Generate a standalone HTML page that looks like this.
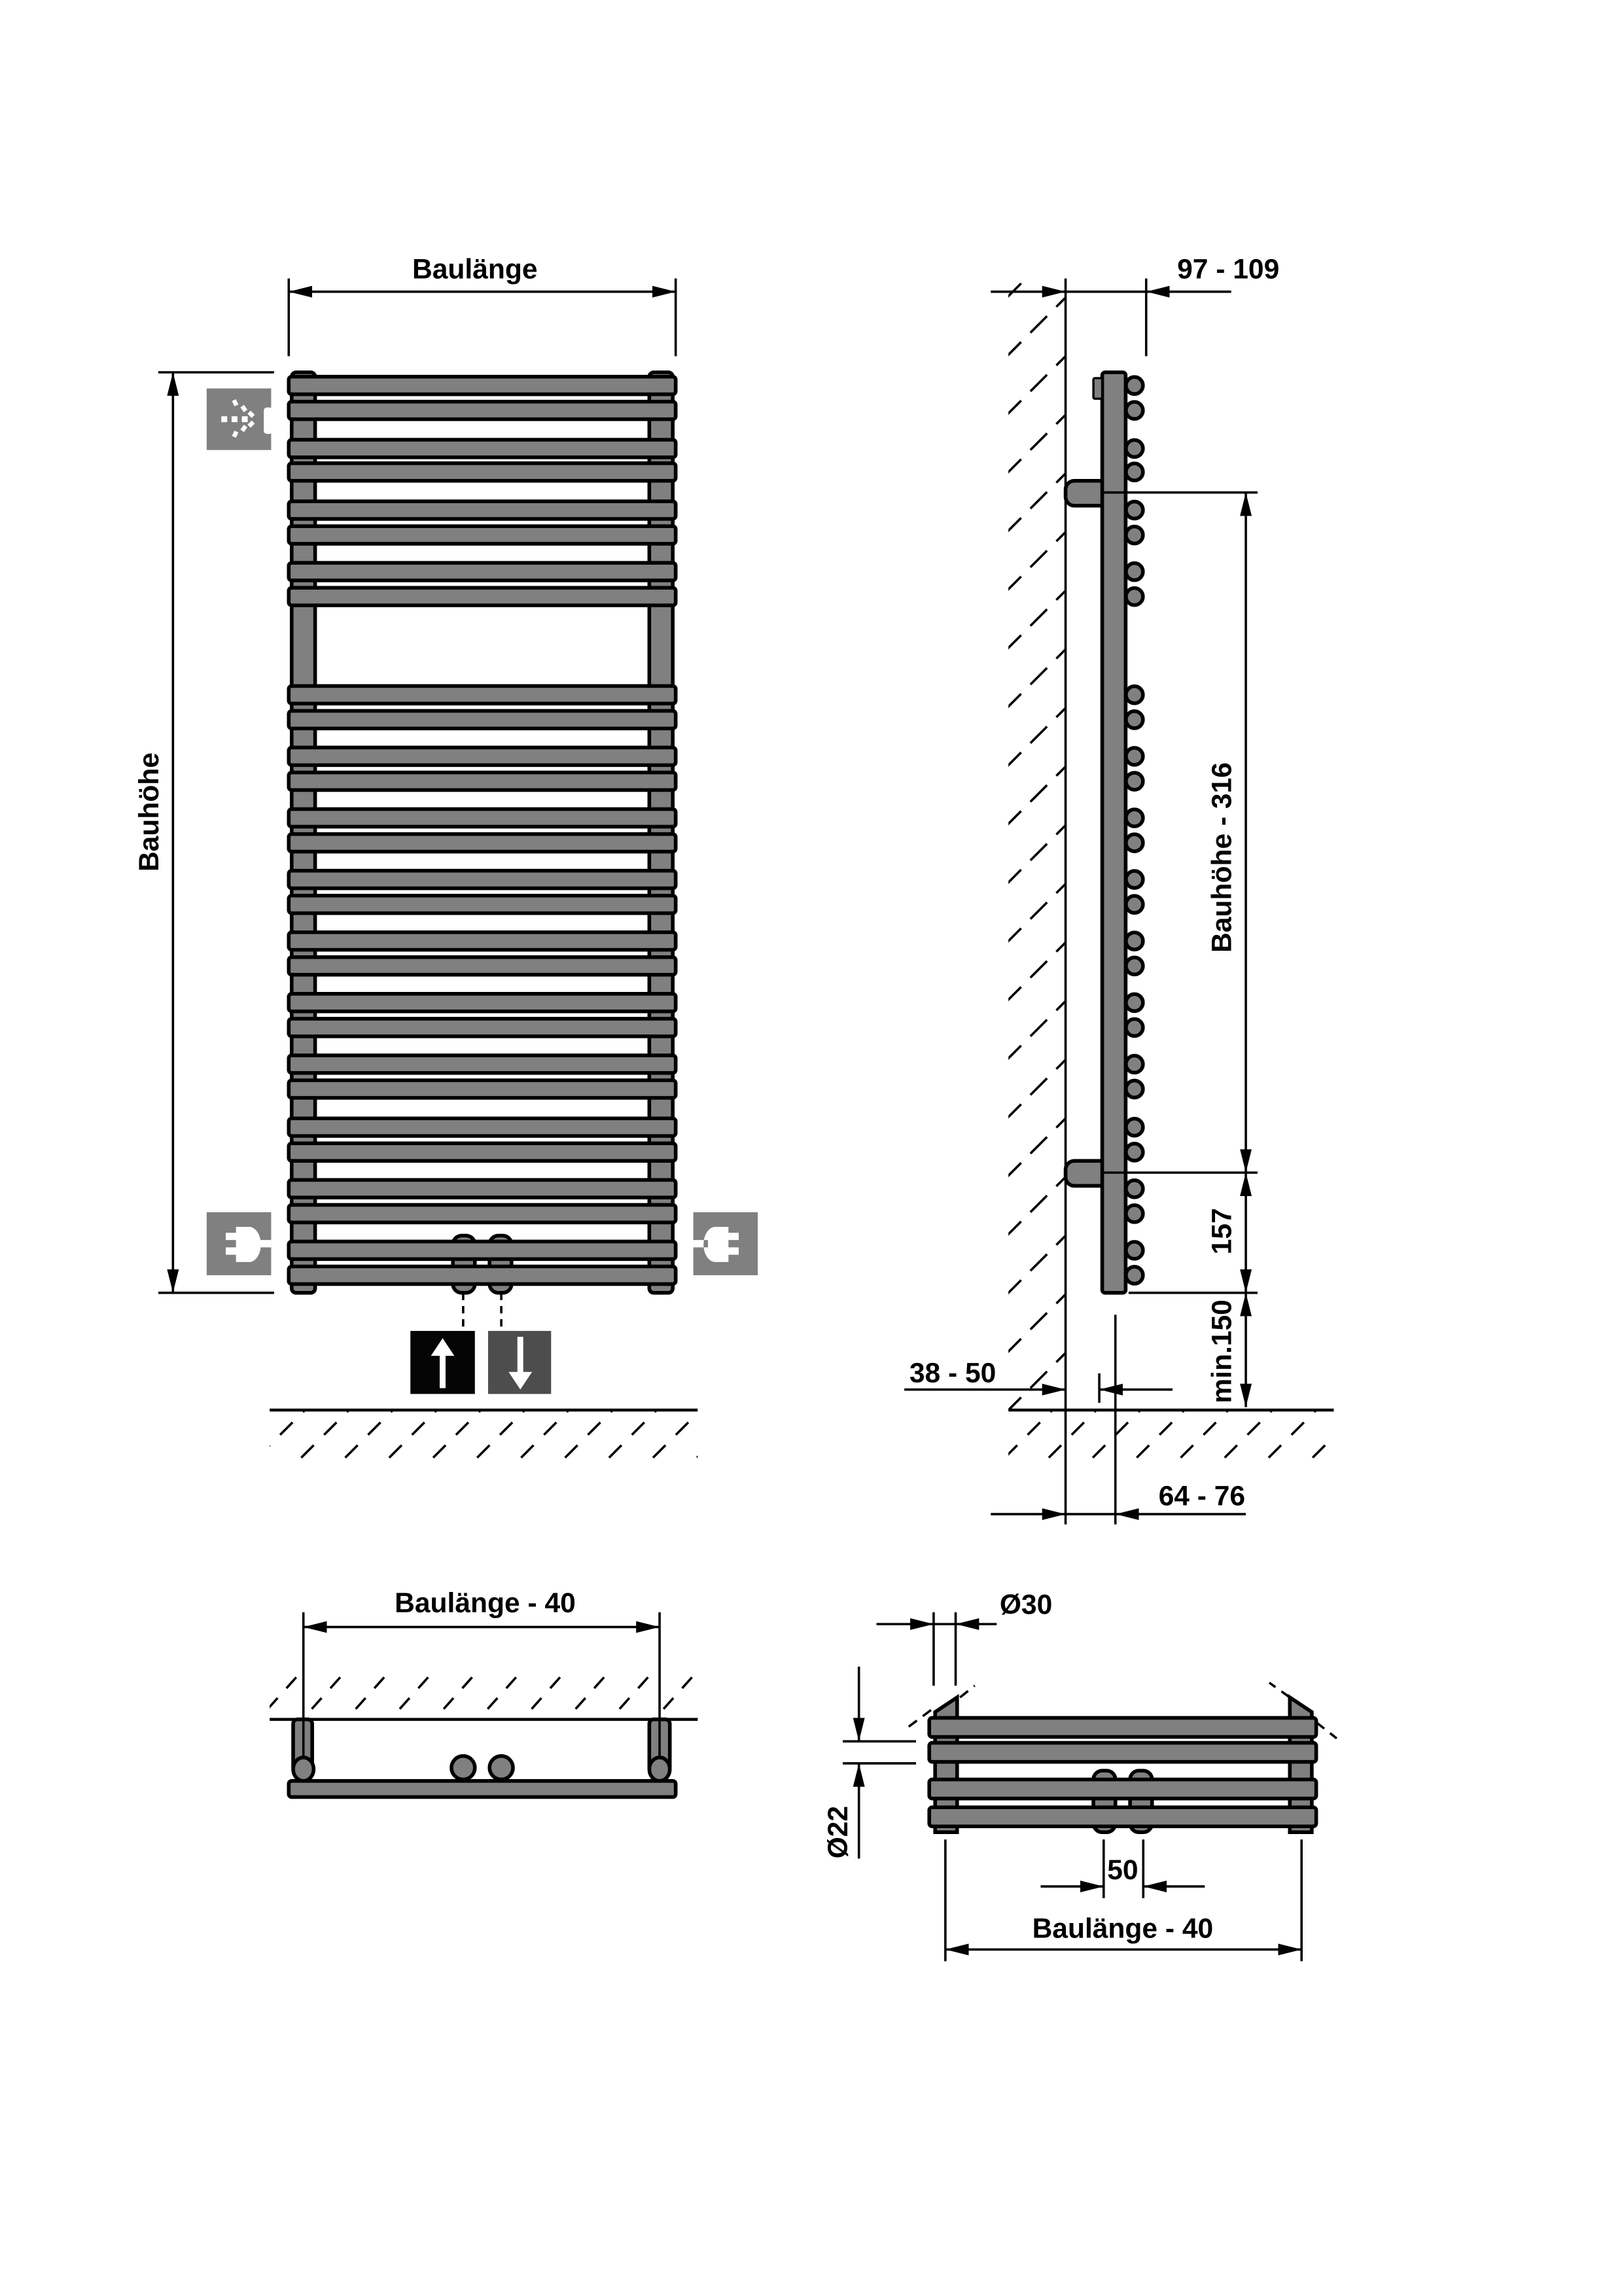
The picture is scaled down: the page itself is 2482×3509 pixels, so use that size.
<!DOCTYPE html>
<html><head><meta charset="utf-8"><style>
html,body{margin:0;padding:0;background:#fff}
svg{display:block}
text{font-family:"Liberation Sans Narrow","Liberation Sans",sans-serif;font-weight:bold;font-size:19px;fill:#000}
</style></head><body>
<svg width="2482" height="3509" viewBox="0 0 1108 1566.4" preserveAspectRatio="none" xmlns="http://www.w3.org/2000/svg">
<defs>
<marker id="a" viewBox="0 0 16 8" refX="16" refY="4" markerWidth="16" markerHeight="8" markerUnits="userSpaceOnUse" orient="auto-start-reverse"><path d="M0,0L16,4L0,8z" fill="#000"/></marker>
<clipPath id="cw"><rect x="688" y="190" width="39" height="772"/></clipPath>
<clipPath id="cf1"><rect x="184" y="962" width="292" height="38"/></clipPath>
<clipPath id="cf2"><rect x="688" y="962" width="222" height="38"/></clipPath>
<clipPath id="cb"><rect x="184" y="1140" width="292" height="33"/></clipPath>
</defs>
<g stroke="#000" stroke-width="1.6" fill="none">
<g clip-path="url(#cw)" stroke-dasharray="16 9">
<path d="M650,240L730,160M650,280L730,200M650,320L730,240M650,360L730,280M650,400L730,320M650,440L730,360M650,480L730,400M650,520L730,440M650,560L730,480M650,600L730,520M650,640L730,560M650,680L730,600M650,720L730,640M650,760L730,680M650,800L730,720M650,840L730,760M650,880L730,800M650,920L730,840M650,960L730,880M650,1000L730,920M650,1040L730,960"/>
</g>
<g clip-path="url(#cf1)" stroke-dasharray="12 10">
<path d="M160,1010L210,960M190,1010L240,960M220,1010L270,960M250,1010L300,960M280,1010L330,960M310,1010L360,960M340,1010L390,960M370,1010L420,960M400,1010L450,960M430,1010L480,960M460,1010L510,960"/>
</g>
<g clip-path="url(#cf2)" stroke-dasharray="12 10">
<path d="M670,1010L720,960M700,1010L750,960M730,1010L780,960M760,1010L810,960M790,1010L840,960M820,1010L870,960M850,1010L900,960M880,1010L930,960M910,1010L960,960"/>
</g>
<g clip-path="url(#cb)" stroke-dasharray="10 9">
<path d="M170,1180L215,1130M200,1180L245,1130M230,1180L275,1130M260,1180L305,1130M290,1180L335,1130M320,1180L365,1130M350,1180L395,1130M380,1180L425,1130M410,1180L455,1130M440,1180L485,1130M470,1180L515,1130"/>
</g>
<path d="M184,962H476M688,962H910M184,1173H476" stroke-width="2"/>
<path d="M727,190V1040"/>
</g>

<!-- FRONT VIEW -->
<g stroke="#000" stroke-width="2.5" fill="#808080">
<rect x="199" y="254" width="16" height="628" rx="3"/>
<rect x="443" y="254" width="16" height="628" rx="3"/>
<rect x="309" y="843" width="15" height="39" rx="6"/>
<rect x="334" y="843" width="15" height="39" rx="6"/>
<g>
<rect x="197" y="257" width="264" height="12" rx="2"/><rect x="197" y="274" width="264" height="12" rx="2"/>
<rect x="197" y="300" width="264" height="12" rx="2"/><rect x="197" y="316" width="264" height="12" rx="2"/>
<rect x="197" y="342" width="264" height="12" rx="2"/><rect x="197" y="359" width="264" height="12" rx="2"/>
<rect x="197" y="384" width="264" height="12" rx="2"/><rect x="197" y="401" width="264" height="12" rx="2"/>
<rect x="197" y="468" width="264" height="12" rx="2"/><rect x="197" y="485" width="264" height="12" rx="2"/>
<rect x="197" y="510" width="264" height="12" rx="2"/><rect x="197" y="527" width="264" height="12" rx="2"/>
<rect x="197" y="552" width="264" height="12" rx="2"/><rect x="197" y="569" width="264" height="12" rx="2"/>
<rect x="197" y="594" width="264" height="12" rx="2"/><rect x="197" y="611" width="264" height="12" rx="2"/>
<rect x="197" y="636" width="264" height="12" rx="2"/><rect x="197" y="653" width="264" height="12" rx="2"/>
<rect x="197" y="678" width="264" height="12" rx="2"/><rect x="197" y="695" width="264" height="12" rx="2"/>
<rect x="197" y="720" width="264" height="12" rx="2"/><rect x="197" y="737" width="264" height="12" rx="2"/>
<rect x="197" y="763" width="264" height="12" rx="2"/><rect x="197" y="780" width="264" height="12" rx="2"/>
<rect x="197" y="805" width="264" height="12" rx="2"/><rect x="197" y="822" width="264" height="12" rx="2"/>
<rect x="197" y="847" width="264" height="12" rx="2"/><rect x="197" y="864" width="264" height="12" rx="2"/>
</g>
</g>
<g stroke="#000" stroke-width="1.6" fill="none">
<path d="M316,882V908M342,882V908" stroke-dasharray="5 4"/>
<path d="M197,190V243M461,190V243"/>
<path d="M197,199H461" marker-start="url(#a)" marker-end="url(#a)"/>
<path d="M108,254H187M108,882H187"/>
<path d="M118,254V882" marker-start="url(#a)" marker-end="url(#a)"/>
</g>
<text x="324" y="190" text-anchor="middle">Baulänge</text>
<text transform="translate(108,554) rotate(-90)" text-anchor="middle">Bauhöhe</text>
<rect x="141" y="265" width="44" height="42" fill="#808080"/>
<g fill="#fff"><rect x="151" y="284" width="4" height="4"/><rect x="158" y="284" width="4" height="4"/><rect x="165" y="284" width="4" height="4"/>
<rect x="159" y="273" width="3" height="4" transform="rotate(-25 160 275)"/><rect x="165" y="277" width="3" height="4" transform="rotate(-35 166 279)"/><rect x="170" y="281" width="3" height="4" transform="rotate(-45 171 283)"/>
<rect x="159" y="294" width="3" height="4" transform="rotate(25 160 296)"/><rect x="165" y="290" width="3" height="4" transform="rotate(35 166 292)"/><rect x="170" y="287" width="3" height="4" transform="rotate(45 171 289)"/>
<rect x="180" y="278" width="6" height="18" rx="2"/></g>
<rect x="141" y="827" width="44" height="43" fill="#808080"/>
<path d="M161,837h9a8,12 0 0 1 0,24h-9v-5h-7v-5h7v-5h-7v-5h7z M175,846h10v5h-10z" fill="#fff"/>
<rect x="473" y="827" width="44" height="43" fill="#808080"/>
<path d="M497,837h-9a8,12 0 0 0 0,24h9v-5h7v-5h-7v-5h7v-5h-7z M473,846h10v5h-10z" fill="#fff"/>
<rect x="280" y="908" width="44" height="43" fill="#050505"/>
<path d="M300,947V925h-6l8,-12 8,12h-6v22z" fill="#fff"/>
<rect x="333" y="908" width="43" height="43" fill="#4d4d4d"/>
<path d="M353,912V936h-6l8,12 8,-12h-6V912z" fill="#fff"/>

<!-- SIDE VIEW -->
<g stroke="#000" stroke-width="2.5" fill="#808080">
<rect x="727" y="328" width="32" height="17" rx="6"/>
<rect x="727" y="792" width="32" height="17" rx="6"/>
<rect x="752" y="254" width="16" height="628" rx="2"/>
<rect x="746" y="258" width="6" height="14" rx="1" stroke-width="1.5"/>
<g>
<circle cx="774" cy="263" r="5.8"/><circle cx="774" cy="280" r="5.8"/><circle cx="774" cy="306" r="5.8"/><circle cx="774" cy="322" r="5.8"/>
<circle cx="774" cy="348" r="5.8"/><circle cx="774" cy="365" r="5.8"/><circle cx="774" cy="390" r="5.8"/><circle cx="774" cy="407" r="5.8"/>
<circle cx="774" cy="474" r="5.8"/><circle cx="774" cy="491" r="5.8"/><circle cx="774" cy="516" r="5.8"/><circle cx="774" cy="533" r="5.8"/>
<circle cx="774" cy="558" r="5.8"/><circle cx="774" cy="575" r="5.8"/><circle cx="774" cy="600" r="5.8"/><circle cx="774" cy="617" r="5.8"/>
<circle cx="774" cy="642" r="5.8"/><circle cx="774" cy="659" r="5.8"/><circle cx="774" cy="684" r="5.8"/><circle cx="774" cy="701" r="5.8"/>
<circle cx="774" cy="726" r="5.8"/><circle cx="774" cy="743" r="5.8"/><circle cx="774" cy="769" r="5.8"/><circle cx="774" cy="786" r="5.8"/>
<circle cx="774" cy="811" r="5.8"/><circle cx="774" cy="828" r="5.8"/><circle cx="774" cy="853" r="5.8"/><circle cx="774" cy="870" r="5.8"/>
</g>
</g>
<g stroke="#000" stroke-width="1.6" fill="none">
<path d="M782,190V243"/>
<path d="M676,199H727" marker-end="url(#a)"/>
<path d="M840,199H782" marker-end="url(#a)"/>
<path d="M727,199H782"/>
<path d="M752,336H858M752,800H858M770,882H858"/>
<path d="M850,336V800" marker-start="url(#a)" marker-end="url(#a)"/>
<path d="M850,800V882" marker-start="url(#a)" marker-end="url(#a)"/>
<path d="M850,882V960" marker-start="url(#a)" marker-end="url(#a)"/>
<path d="M750,937V957M761,897V1040"/>
<path d="M617,948H727" marker-end="url(#a)"/>
<path d="M800,948H750" marker-end="url(#a)"/>
<path d="M676,1033H727" marker-end="url(#a)"/>
<path d="M850,1033H761" marker-end="url(#a)"/>
<path d="M727,1033H761"/>
</g>
<text x="838" y="190" text-anchor="middle">97 - 109</text>
<text transform="translate(840,585) rotate(-90)" text-anchor="middle">Bauhöhe - 316</text>
<text transform="translate(840,840) rotate(-90)" text-anchor="middle">157</text>
<text transform="translate(840,922) rotate(-90)" text-anchor="middle">min.150</text>
<text x="650" y="943" text-anchor="middle">38 - 50</text>
<text x="820" y="1027" text-anchor="middle">64 - 76</text>

<!-- BOTTOM LEFT -->
<g stroke="#000" stroke-width="2.5" fill="#808080">
<rect x="200" y="1173" width="13" height="36" rx="3"/>
<rect x="443" y="1173" width="14" height="36" rx="3"/>
<rect x="197" y="1215" width="264" height="11" rx="2"/>
<ellipse cx="207" cy="1207" rx="7" ry="8"/>
<ellipse cx="450" cy="1207" rx="7" ry="8"/>
<ellipse cx="316" cy="1206" rx="8" ry="8"/>
<ellipse cx="342" cy="1206" rx="8" ry="8"/>
</g>
<g stroke="#000" stroke-width="1.6" fill="none">
<path d="M207,1100V1200M450,1100V1200"/>
<path d="M207,1110H450" marker-start="url(#a)" marker-end="url(#a)"/>
</g>
<text x="331" y="1100" text-anchor="middle">Baulänge - 40</text>

<!-- BOTTOM RIGHT -->
<g stroke="#000" stroke-width="2.5" fill="#808080">
<path d="M638,1250V1168L653,1158V1250z"/>
<path d="M895,1250V1168L880,1158V1250z"/>
<rect x="746" y="1208" width="15" height="42" rx="6"/>
<rect x="771" y="1208" width="15" height="42" rx="6"/>
<rect x="634" y="1172" width="264" height="13" rx="2"/>
<rect x="634" y="1189" width="264" height="13" rx="2"/>
<rect x="634" y="1214" width="264" height="13" rx="2"/>
<rect x="634" y="1233" width="264" height="13" rx="2"/>
</g>
<g stroke="#000" stroke-width="1.6" fill="none">
<path d="M620,1178L636,1166M655,1158L665,1150M898,1175L912,1186M880,1158L866,1148" stroke-dasharray="7 5"/>
<path d="M637,1100V1150M652,1100V1150"/>
<path d="M598,1108H637" marker-end="url(#a)"/>
<path d="M680,1108H652" marker-end="url(#a)"/>
<path d="M637,1108H652"/>
<path d="M575,1188H625M575,1203H625"/>
<path d="M586,1137V1188" marker-end="url(#a)"/>
<path d="M586,1268V1203" marker-end="url(#a)"/>
<path d="M753,1255V1295M780,1255V1295"/>
<path d="M710,1287H753" marker-end="url(#a)"/>
<path d="M822,1287H780" marker-end="url(#a)"/>
<path d="M645,1255V1338M888,1255V1338"/>
<path d="M645,1330H888" marker-start="url(#a)" marker-end="url(#a)"/>
</g>
<text x="700" y="1101" text-anchor="middle">Ø30</text>
<text transform="translate(578,1250) rotate(-90)" text-anchor="middle">Ø22</text>
<text x="766" y="1282" text-anchor="middle">50</text>
<text x="766" y="1322" text-anchor="middle">Baulänge - 40</text>
</svg>
</body></html>
